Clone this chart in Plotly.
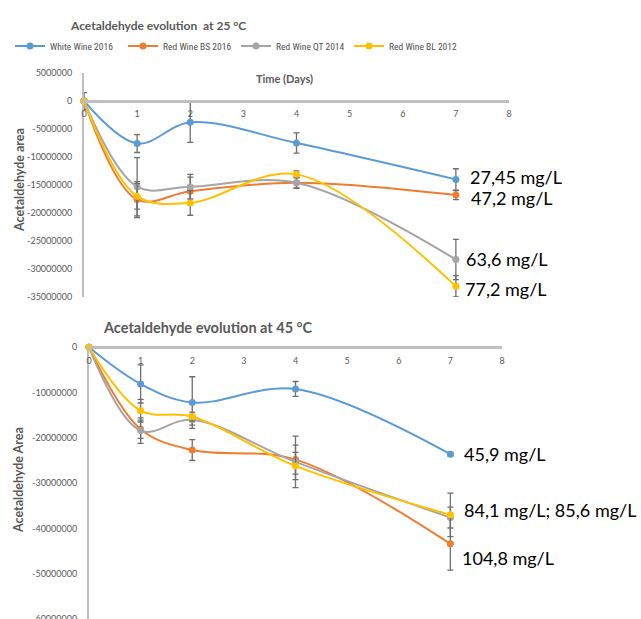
import plotly.graph_objects as go

# ---------------- data ----------------
days = [0, 1, 2, 4, 7]
series_names = ["White Wine 2016", "Red Wine BS 2016", "Red Wine QT 2014", "Red Wine BL 2012"]
series_colors = ["#5B9BD5", "#ED7D31", "#A5A5A5", "#FFC000"]

# 25 °C
white25 = [0, -7.6e6, -3.8e6, -7.5e6, -14.0e6]
orange25 = [0, -17.6e6, -16.1e6, -14.6e6, -16.8e6]
gray25 = [0, -15.3e6, -15.3e6, -14.6e6, -28.3e6]
yellow25 = [0, -17.0e6, -18.2e6, -13.1e6, -33.1e6]
white25_err = [0, 1.6e6, 3.6e6, 1.8e6, 1.9e6]
orange25_err = [0, 3.2e6, 2.5e6, 1.0e6, 0.8e6]
gray25_err = [1.5e6, 5.2e6, 2.2e6, 0.9e6, 3.6e6]
yellow25_err = [0, 2.3e6, 2.2e6, 0.6e6, 1.9e6]
labels25 = ["27,45 mg/L", "47,2 mg/L", "63,6 mg/L", "77,2 mg/L"]

# 45 °C
white45 = [0, -8.1e6, -12.2e6, -9.2e6, -23.6e6]
orange45 = [0, -18.1e6, -22.7e6, -24.8e6, -43.4e6]
gray45 = [0, -18.4e6, -16.0e6, -25.3e6, -37.6e6]
yellow45 = [0, -14.0e6, -15.3e6, -26.2e6, -37.0e6]
white45_err = [0, 4.2e6, 5.7e6, 1.65e6, 0.4e6]
orange45_err = [0, 2.0e6, 2.3e6, 3.2e6, 5.8e6]
gray45_err = [0, 2.8e6, 1.2e6, 5.7e6, 2.3e6]
yellow45_err = [0, 2.5e6, 1.0e6, 3.0e6, 4.8e6]
labels45 = ["45,9 mg/L", "104,8 mg/L", "84,1 mg/L; 85,6 mg/L"]

x_ticks = [0, 1, 2, 3, 4, 5, 6, 7, 8]
y_ticks25 = [5e6, 0, -5e6, -10e6, -15e6, -20e6, -25e6, -30e6, -35e6]
y_ticks45 = [0, -10e6, -20e6, -30e6, -40e6, -50e6, -60e6]

title25 = "Acetaldehyde evolution  at 25 °C"
title45 = "Acetaldehyde evolution at 45 °C"
xtitle = "Time (Days)"
ytitle25 = "Acetaldehyde area"
ytitle45 = "Acetaldehyde Area"

# ---------------- figure ----------------
W, H = 641, 619
FONT = "Lato, 'Liberation Sans', sans-serif"
NARROW = "'Liberation Sans Narrow', 'Roboto Condensed', Lato, sans-serif"
GREY_TXT = "#595959"
AXIS_COL = "#BFBFBF"
ERR_COL = "#6E6E6E"

fig = go.Figure()

top = [white25, orange25, gray25, yellow25]
top_err = [white25_err, orange25_err, gray25_err, yellow25_err]
bot = [white45, orange45, gray45, yellow45]
bot_err = [white45_err, orange45_err, gray45_err, yellow45_err]

for name, col, ys, es in zip(series_names, series_colors, top, top_err):
    fig.add_trace(go.Scatter(
        x=days, y=ys, name=name, mode="lines+markers",
        line=dict(color=col, width=2, shape="spline", smoothing=1),
        marker=dict(color=col, size=7),
        error_y=dict(type="data", array=es, visible=True, color=ERR_COL, thickness=1.3, width=3),
        xaxis="x", yaxis="y", cliponaxis=False,
    ))

for name, col, ys, es in zip(series_names, series_colors, bot, bot_err):
    fig.add_trace(go.Scatter(
        x=days, y=ys, name=name, mode="lines+markers", showlegend=False,
        line=dict(color=col, width=2, shape="spline", smoothing=1),
        marker=dict(color=col, size=7),
        error_y=dict(type="data", array=es, visible=True, color=ERR_COL, thickness=1.3, width=3),
        xaxis="x2", yaxis="y2", cliponaxis=False,
    ))

def py(p):  # pixel from top -> paper fraction
    return 1 - p / H

def px(p):
    return p / W

tickfont = dict(family=FONT, size=9, color=GREY_TXT)

fig.update_layout(
    width=W, height=H,
    margin=dict(l=0, r=0, t=0, b=0, autoexpand=False),
    paper_bgcolor="white", plot_bgcolor="white",
    font=dict(family=FONT, color=GREY_TXT),
    showlegend=True,
    legend=dict(orientation="h", x=px(10), y=py(46), xanchor="left", yanchor="middle",
                font=dict(family=NARROW, size=9.5, color="#505050"), itemwidth=30,
                entrywidth=68, entrywidthmode="pixels",
                tracegroupgap=0, bgcolor="rgba(0,0,0,0)"),
    xaxis=dict(domain=[px(84), px(509)], range=[0, 8], anchor="free", position=py(100.7),
               side="bottom", showline=True, linecolor=AXIS_COL, linewidth=3,
               tickvals=x_ticks, ticktext=[str(t) for t in x_ticks], tickfont=tickfont,
               ticks="", ticklabelstandoff=3, showgrid=False, zeroline=False,
               automargin=False),
    yaxis=dict(domain=[py(297), py(73)], range=[-35e6, 5e6], anchor="x",
               showline=True, linecolor=AXIS_COL, linewidth=2,
               tickvals=y_ticks25, ticktext=[str(int(v)) for v in y_ticks25],
               tickfont=tickfont, ticks="", ticklabelstandoff=8,
               showgrid=False, zeroline=False, automargin=False),
    xaxis2=dict(domain=[px(89), px(502)], range=[0, 8], anchor="free", position=py(347.3),
                side="bottom", showline=True, linecolor=AXIS_COL, linewidth=3,
                tickvals=x_ticks, ticktext=[str(t) for t in x_ticks], tickfont=tickfont,
                ticks="", ticklabelstandoff=4, showgrid=False, zeroline=False,
                automargin=False),
    yaxis2=dict(domain=[0, py(347.3)], range=[-60e6, 0], anchor="x2",
                showline=True, linecolor=AXIS_COL, linewidth=2,
                tickvals=y_ticks45, ticktext=[str(int(v)) for v in y_ticks45],
                tickfont=tickfont, ticks="", ticklabelstandoff=8,
                ticklabeloverflow="allow",
                showgrid=False, zeroline=False, automargin=False),
)

ann = []
def paper_text(text, x, y, size, angle=0):
    return dict(text=text, x=px(x), y=py(y), xref="paper", yref="paper",
                xanchor="center", yanchor="middle", showarrow=False, textangle=angle,
                font=dict(family=FONT, size=size, color=GREY_TXT))

# chart titles
ann.append(paper_text("<b>%s</b>" % title25, 158, 25, 12))
ann.append(paper_text("<b>%s</b>" % title45, 208, 327, 14.5))
# x-axis title (top chart, above axis)
ann.append(paper_text("<b>%s</b>" % xtitle, 284, 79, 11))
# y-axis titles
ann.append(paper_text("<b>%s</b>" % ytitle25, 20, 180, 12.5, -90))
ann.append(paper_text("<b>%s</b>" % ytitle45, 18, 480, 12.5, -90))

lab_font = dict(family=FONT, size=18, color="#000000")
# data labels 25 °C at final point of each series
shifts25 = [(12, 2), (13, -3), (8, 0), (7, -3)]
for ys, lab, (dx, dy) in zip(top, labels25, shifts25):
    ann.append(dict(text=lab, x=days[-1], y=ys[-1], xref="x", yref="y", xanchor="left",
                    yanchor="middle", xshift=dx, yshift=dy, showarrow=False, font=lab_font))
# data labels 45 °C
targets45 = [white45, orange45, yellow45]
shifts45 = [(12, 0), (10, -14), (12, 5)]
for ys, lab, (dx, dy) in zip(targets45, labels45, shifts45):
    ann.append(dict(text=lab, x=days[-1], y=ys[-1], xref="x2", yref="y2", xanchor="left",
                    yanchor="middle", xshift=dx, yshift=dy, showarrow=False, font=lab_font))

fig.update_layout(annotations=ann)
fig.write_html("out.html")
